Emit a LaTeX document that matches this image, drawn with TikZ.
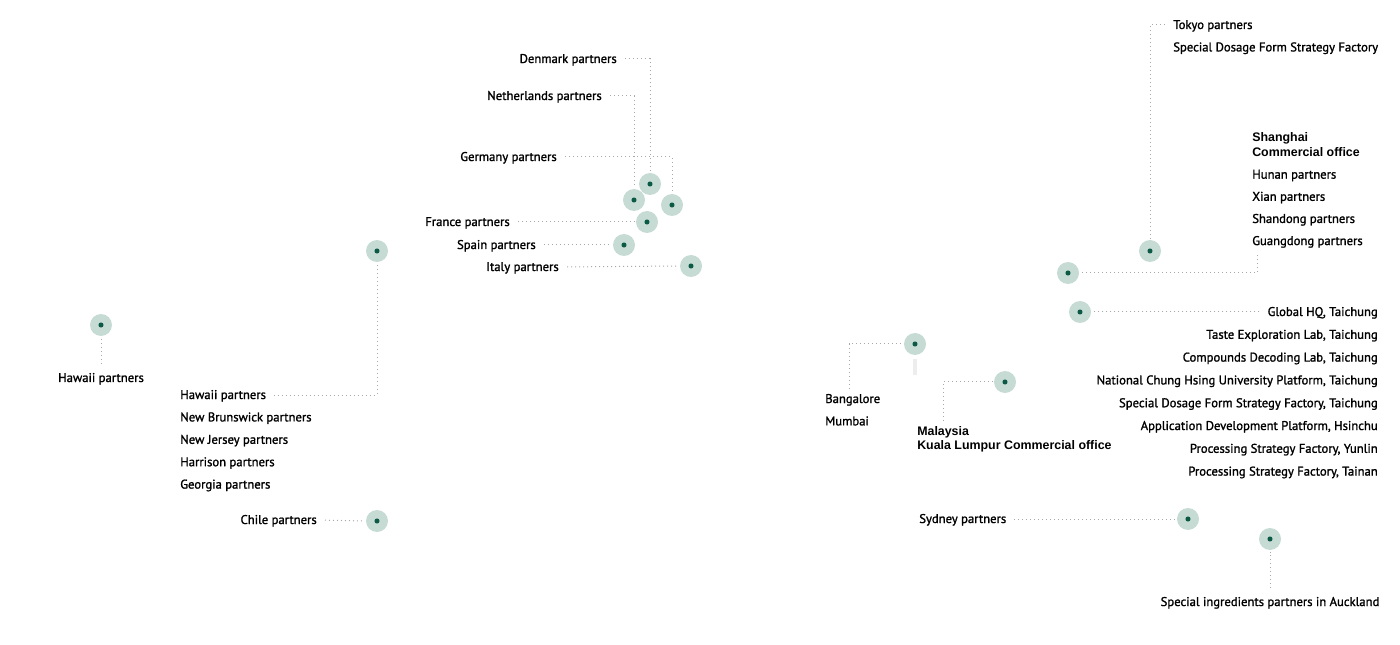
\documentclass[tikz,border=0pt]{standalone}
\usepackage{fontspec}
\setmainfont{PT Sans}
\newfontfamily\labelfont{PT Sans}[FakeBold=1.4]
\newfontfamily\arialfont{Liberation Sans}
\usetikzlibrary{positioning}

\definecolor{sitefill}{HTML}{C6DBD4}
\definecolor{sitecore}{HTML}{0C5A45}
\definecolor{leadgray}{HTML}{A8A8A8}

\begin{document}
\begin{tikzpicture}[%
    x=0.75pt, y=-0.75pt,   % pixel grid of the map, y runs downwards
    node distance=7.4pt,   % gap between stacked label lines
    ]

\tikzset{
  site/.style={circle, fill=sitefill, minimum size=16.5pt, inner sep=0pt,
    path picture={\fill[sitecore] (path picture bounding box.center) circle (1.9pt);}},
  lbl/.style={inner sep=0pt, text height=7.5pt, text depth=1.5pt,
    font=\labelfont\fontsize{9.5}{11}\selectfont},
  alt/.style={lbl, font=\arialfont\bfseries\fontsize{9.3}{11}\selectfont},
  leader/.style={draw=leadgray, line width=0.75pt, dash pattern=on 0.75pt off 2.25pt,
    shorten <=6pt, shorten >=1pt}
  };

\useasboundingbox (0,0) rectangle (1400,645);

% EUROPE
\node[site] (dkSite) at (650,184) {};
\node[site] (nlSite) at (634,200) {};
\node[site] (deSite) at (672,205) {};
\node[site] (frSite) at (647,222) {};
\node[site] (esSite) at (624,245) {};
\node[site] (itSite) at (691,266) {};

\node[lbl, anchor=east] (dk) at (617,59)  { Denmark partners };
\node[lbl, anchor=east] (nl) at (602,96)  { Netherlands partners };
\node[lbl, anchor=east] (de) at (557,157) { Germany partners };
\node[lbl, anchor=east] (fr) at (510,222) { France partners };
\node[lbl, anchor=east] (es) at (536,245) { Spain partners };
\node[lbl, anchor=east] (it) at (559,267) { Italy partners };

\draw[leader] (dk.east) -| (dkSite.north);
\draw[leader] (nl.east) -| (nlSite.north);
\draw[leader] (de.east) -| (deSite.north);
\draw[leader] (fr.east) -- (frSite.west);
\draw[leader] (es.east) -- (esSite.west);
\draw[leader] (it.east) -- (itSite.west);

% AMERICAS
\node[site] (hiSite) at (101,325) {};
\node[site] (usSite) at (377,251) {};
\node[site] (clSite) at (377,521) {};

\node[lbl] (hi1) at (101,378) { Hawaii partners };

\node[lbl, anchor=west] (hi2) at (180,395) { Hawaii partners };
\node[lbl, below=of hi2.south west, anchor=north west] (nb) { New Brunswick partners };
\node[lbl, below=of nb.south west, anchor=north west]  (nj) { New Jersey partners };
\node[lbl, below=of nj.south west, anchor=north west]  (hr) { Harrison partners };
\node[lbl, below=of hr.south west, anchor=north west]  (ga) { Georgia partners };

\node[lbl, anchor=east] (cl) at (317,520) { Chile partners };

\draw[leader] (hi1.north) -- (hiSite.south);
\draw[leader] (hi2.east) -| (usSite.south);
\draw[leader] (cl.east) -- (clSite.west);

% EAST ASIA
\node[site] (tkSite) at (1150,251) {};
\node[site] (shSite) at (1068,273) {};
\node[site] (twSite) at (1080,312) {};

\node[lbl, anchor=west] (tk) at (1173,25) { Tokyo partners };
\node[lbl, below=of tk.south west, anchor=north west] (sdf) { Special Dosage Form Strategy Factory };

\node[alt, anchor=west] (sh) at (1252,138) { Shanghai };
\node[alt, below=1.5pt of sh.south west, anchor=north west] (co) { Commercial office };
\node[lbl, below=7.2pt of co.south west, anchor=north west] (hn) { Hunan partners };
\node[lbl, below=7.2pt of hn.south west, anchor=north west] (xa) { Xian partners };
\node[lbl, below=7.2pt of xa.south west, anchor=north west] (sd) { Shandong partners };
\node[lbl, below=7.2pt of sd.south west, anchor=north west] (gd) { Guangdong partners };

\node[lbl, anchor=east] (hq) at (1378,312) { Global HQ, Taichung };
\node[lbl, below=7.7pt of hq.south east, anchor=north east]  (tel) { Taste Exploration Lab, Taichung };
\node[lbl, below=7.7pt of tel.south east, anchor=north east] (cdl) { Compounds Decoding Lab, Taichung };
\node[lbl, below=7.7pt of cdl.south east, anchor=north east] (nch) { National Chung Hsing University Platform, Taichung };
\node[lbl, below=7.7pt of nch.south east, anchor=north east] (sdt) { Special Dosage Form Strategy Factory, Taichung };
\node[lbl, below=7.7pt of sdt.south east, anchor=north east] (adp) { Application Development Platform, Hsinchu };
\node[lbl, below=7.7pt of adp.south east, anchor=north east] (psy) { Processing Strategy Factory, Yunlin };
\node[lbl, below=7.7pt of psy.south east, anchor=north east] (pst) { Processing Strategy Factory, Tainan };

\draw[leader] (tk.west) -| (tkSite.north);
\draw[leader] ([xshift=4pt]gd.south west) |- (shSite.east);
\draw[leader] (hq.west) -- (twSite.east);

% SOUTH ASIA
\node[site] (inSite) at (915,344) {};
\node[site] (mySite) at (1005,382) {};
\fill[black!7] ([xshift=-1.3pt, yshift=-2.5pt]inSite.south) rectangle ([xshift=1.3pt, yshift=-14.5pt]inSite.south);

\node[lbl, anchor=west] (blr) at (825,399) { Bangalore };
\node[lbl, below=of blr.south west, anchor=north west] (mum) { Mumbai };

\node[alt, anchor=west] (my) at (917,431) { Malaysia };
\node[alt, below=1.5pt of my.south west, anchor=north west] (kl) { Kuala Lumpur Commercial office };

\draw[leader, shorten <=3pt] ([xshift=18pt]blr.north west) |- (inSite.west);
\draw[leader, shorten <=3pt] ([xshift=19.5pt]my.north west) |- (mySite.west);

% OCEANIA
\node[site] (sydSite) at (1188,519) {};
\node[site] (akSite)  at (1270,539) {};

\node[lbl, anchor=west] (syd) at (919,519) { Sydney partners };
\node[lbl] (ak) at (1270,602) { Special ingredients partners in Auckland };

\draw[leader] (syd.east) -- (sydSite.west);
\draw[leader] (ak.north) -- (akSite.south);

\end{tikzpicture}
\end{document}
